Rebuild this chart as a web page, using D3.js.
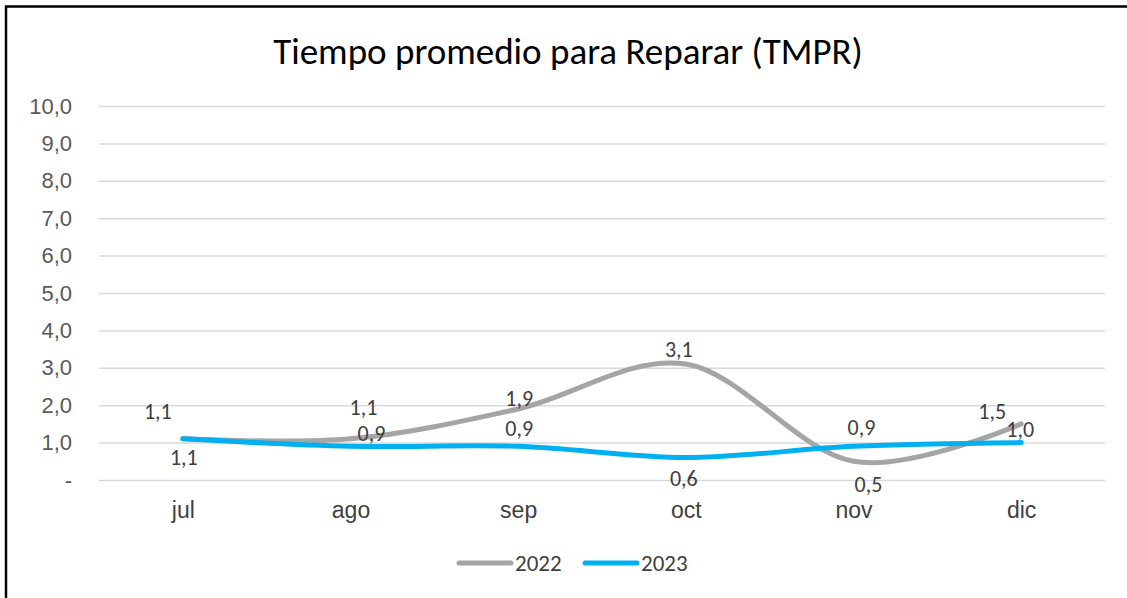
<!DOCTYPE html>
<html lang="es">
<head>
	<meta charset="utf-8">
	<title>Tiempo promedio para Reparar (TMPR)</title>
	<script type="text/javascript" src="https://cdn.jsdelivr.net/npm/d3@7"></script>
	<style>
		body { margin: 0; background: #fff; font-family: Carlito, Calibri, "Open Sans", sans-serif; }
		.ytick text { fill: #595959; font-size: 22px; }
		.xtick text { fill: #404040; font-size: 23px; }
		.lbl { fill: #404040; font-size: 22px; }
	</style>
</head>
<body>
	<div id="chart"></div>
	<script type="text/javascript">

		var months = ["jul", "ago", "sep", "oct", "nov", "dic"];
		var values2022 = [1.1, 1.1, 1.9, 3.1, 0.5, 1.5];
		var values2023 = [1.1, 0.9, 0.9, 0.6, 0.9, 1.0];
		var yTicks = [0, 1, 2, 3, 4, 5, 6, 7, 8, 9, 10];

		// label offsets (dx, dy) of the label centre from its point
		var offs2022 = [[-25, -28], [13, -32], [1, -11], [-7, -15], [15, 23], [-29, -13]];
		var offs2023 = [[1, 18], [21, -13], [1, -18], [-2, 21], [8, -19], [-1, -14]];

		var w = 1127, h = 598;
		var margin = {left: 99, right: 22, top: 106, bottom: 118};

		var svg = d3.select("#chart").append("svg")
			.attr("width", w)
			.attr("height", h);

		// frame (left + top edges)
		svg.append("path")
			.attr("d", "M6,598 L6,6.5 L1127,6.5")
			.attr("fill", "none")
			.attr("stroke", "#000")
			.attr("stroke-width", 2.5);

		svg.append("text")
			.attr("x", 568).attr("y", 64)
			.attr("text-anchor", "middle")
			.attr("font-size", "37px")
			.attr("fill", "#000")
			.text("Tiempo promedio para Reparar (TMPR)");

		var x = d3.scalePoint().domain(months)
			.range([margin.left, w - margin.right]).padding(0.5);
		var y = d3.scaleLinear().domain([0, 10])
			.range([h - margin.bottom, margin.top]);

		// grid + y axis
		var yAxis = svg.append("g")
			.attr("class", "ytick")
			.attr("transform", "translate(" + margin.left + ",0)")
			.call(d3.axisLeft(y).tickValues(yTicks)
				.tickSize(-(w - margin.left - margin.right))
				.tickPadding(27)
				.tickFormat(function(d) { return d === 0 ? "-" : d3.format(".1f")(d).replace(".", ","); }));
		yAxis.select(".domain").remove();
		yAxis.selectAll(".tick line").attr("stroke", "#d9d9d9").attr("stroke-width", 1.5);

		// x axis labels
		var xAxis = svg.append("g")
			.attr("class", "xtick")
			.attr("transform", "translate(0," + (h - margin.bottom) + ")")
			.call(d3.axisBottom(x).tickSize(0).tickPadding(22));
		xAxis.select(".domain").remove();

		var line = d3.line()
			.x(function(d, i) { return x(months[i]); })
			.y(function(d) { return y(d); })
			.curve(d3.curveCardinal.tension(0));

		var series = [
			{name: "2022", vals: values2022, color: "#a5a5a5", offs: offs2022},
			{name: "2023", vals: values2023, color: "#00b0f0", offs: offs2023}
		];

		series.forEach(function(s) {
			svg.append("path")
				.attr("d", line(s.vals))
				.attr("fill", "none")
				.attr("stroke", s.color)
				.attr("stroke-width", 5)
				.attr("stroke-linecap", "round");
		});

		series.forEach(function(s) {
			svg.selectAll(".lbl" + s.name)
				.data(s.vals)
				.enter()
				.append("text")
				.attr("class", "lbl")
				.attr("text-anchor", "middle")
				.attr("x", function(d, i) { return x(months[i]) + s.offs[i][0]; })
				.attr("y", function(d, i) { return y(d) + s.offs[i][1]; })
				.attr("dy", "0.36em")
				.text(function(d) { return d3.format(".1f")(d).replace(".", ","); });
		});

		// legend
		var leg = svg.append("g").attr("transform", "translate(457,563)");
		series.forEach(function(s, i) {
			var g = leg.append("g").attr("transform", "translate(" + (i * 126) + ",0)");
			g.append("line")
				.attr("x1", 2).attr("x2", 54)
				.attr("stroke", s.color).attr("stroke-width", 5)
				.attr("stroke-linecap", "round");
			g.append("text")
				.attr("x", 58).attr("y", 0).attr("dy", "0.36em")
				.attr("font-size", "23px").attr("fill", "#404040")
				.text(s.name);
		});
	</script>
</body>
</html>
